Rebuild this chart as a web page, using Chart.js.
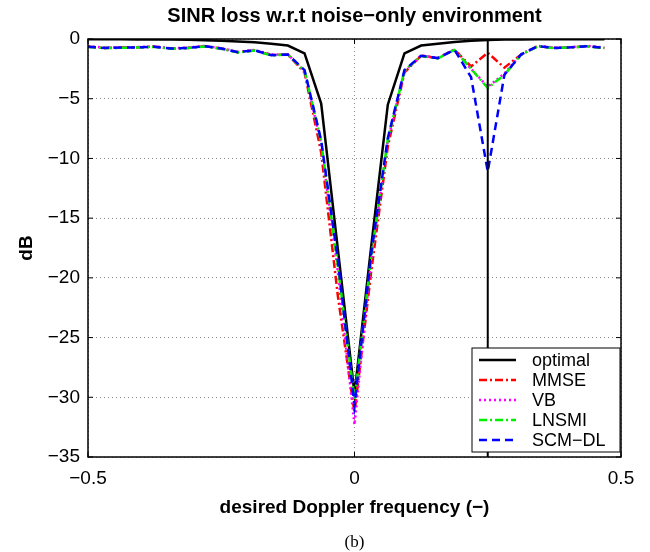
<!DOCTYPE html>
<html>
<head>
<meta charset="utf-8">
<script src="https://cdn.jsdelivr.net/npm/chart.js@4/dist/chart.umd.min.js"></script>
<style>
  html, body { margin: 0; padding: 0; background: #fff; }
  #wrap { width: 650px; height: 552px; position: relative; }
</style>
</head>
<body>
<div id="wrap"><canvas id="myChart"></canvas></div>
<script>
// desired Doppler frequency grid (1/32 steps)
const freq = [-0.5, -0.46875, -0.4375, -0.40625, -0.375, -0.34375, -0.3125, -0.28125,
  -0.25, -0.21875, -0.1875, -0.15625, -0.125, -0.09375, -0.0625, -0.03125,
  0, 0.03125, 0.0625, 0.09375, 0.125, 0.15625, 0.1875, 0.21875,
  0.25, 0.28125, 0.3125, 0.34375, 0.375, 0.40625, 0.4375, 0.46875];

// SINR loss (dB)
const optimal = [-0.03, -0.03, -0.03, -0.04, -0.04, -0.05, -0.06, -0.1,
  -0.15, -0.2, -0.28, -0.4, -0.55, -1.2, -5.4, -17.6,
  -29.7, -17.4, -5.5, -1.2, -0.55, -0.4, -0.25, -0.15,
  -0.08, -0.05, -0.04, -0.03, -0.03, -0.03, -0.03, -0.03];
const mmse = [-0.65, -0.75, -0.72, -0.7, -0.65, -0.8, -0.75, -0.6,
  -0.8, -1.1, -0.95, -1.35, -1.3, -2.8, -9.5, -21.5,
  -31.3, -19.5, -9.0, -2.8, -1.4, -1.6, -0.9, -2.3,
  -1.15, -2.4, -1.3, -0.6, -0.75, -0.7, -0.6, -0.75];
const vb = [-0.62, -0.72, -0.7, -0.68, -0.62, -0.78, -0.72, -0.58,
  -0.78, -1.08, -0.92, -1.3, -1.28, -2.7, -8.8, -19.5,
  -32.3, -18.5, -8.5, -2.7, -1.38, -1.58, -0.88, -2.5,
  -4.0, -2.9, -1.28, -0.58, -0.72, -0.68, -0.58, -0.72];
const lnsmi = [-0.66, -0.76, -0.74, -0.71, -0.66, -0.82, -0.76, -0.62,
  -0.82, -1.12, -0.97, -1.37, -1.32, -2.65, -8.6, -19.0,
  -30.2, -18.3, -8.4, -2.65, -1.42, -1.62, -0.92, -2.5,
  -4.1, -3.0, -1.32, -0.62, -0.76, -0.71, -0.62, -0.76];
const scmdl = [-0.65, -0.75, -0.72, -0.7, -0.65, -0.8, -0.75, -0.6,
  -0.8, -1.1, -0.95, -1.35, -1.3, -2.6, -8.5, -18.5,
  -30.7, -18.0, -8.3, -2.6, -1.4, -1.6, -0.9, -3.2,
  -11.1, -3.0, -1.3, -0.6, -0.75, -0.7, -0.6, -0.75];

const xTicks = [-0.5, 0, 0.5];
const yTicks = [0, -5, -10, -15, -20, -25, -30, -35];
const markerFreq = 0.25; // vertical reference line

const FONT = "'Liberation Sans', Arial, Helvetica, sans-serif";

function pts(values) {
  return freq.map((f, i) => ({ x: f, y: values[i] }));
}
function minus(v) {
  return String(v).replace("-", "\u2212");
}

const series = [
  { label: "optimal", data: optimal, color: "#000000", dash: [], order: 4 },
  { label: "MMSE", data: mmse, color: "#ff0000", dash: [8, 3, 2, 3], order: 3 },
  { label: "VB", data: vb, color: "#ff00ff", dash: [2, 3], order: 2 },
  { label: "LNSMI", data: lnsmi, color: "#00ee00", dash: [8, 3, 2, 3], order: 1 },
  { label: "SCM\u2212DL", data: scmdl, color: "#0000ff", dash: [8, 5], order: 0 },
];

// box, inward ticks, marker line, title, legend and caption
const decorPlugin = {
  id: "decor",
  afterDatasetsDraw(chart) {
    const ctx = chart.ctx;
    const a = chart.chartArea;
    const xs = chart.scales.x;
    const ys = chart.scales.y;
    ctx.save();

    // vertical line at 0.25
    const mx = xs.getPixelForValue(markerFreq);
    ctx.strokeStyle = "#000";
    ctx.lineWidth = 2;
    ctx.beginPath();
    ctx.moveTo(mx, a.top);
    ctx.lineTo(mx, a.bottom);
    ctx.stroke();

    // axes box
    ctx.lineWidth = 1.5;
    ctx.strokeRect(a.left, a.top, a.right - a.left, a.bottom - a.top);

    // inward tick marks
    ctx.lineWidth = 1;
    const tl = 5;
    xTicks.forEach((t) => {
      const px = xs.getPixelForValue(t);
      ctx.beginPath();
      ctx.moveTo(px, a.bottom); ctx.lineTo(px, a.bottom - tl);
      ctx.moveTo(px, a.top); ctx.lineTo(px, a.top + tl);
      ctx.stroke();
    });
    yTicks.forEach((t) => {
      const py = ys.getPixelForValue(t);
      ctx.beginPath();
      ctx.moveTo(a.left, py); ctx.lineTo(a.left + tl, py);
      ctx.moveTo(a.right, py); ctx.lineTo(a.right - tl, py);
      ctx.stroke();
    });

    // title
    const cx = (a.left + a.right) / 2;
    ctx.fillStyle = "#000";
    ctx.textAlign = "center";
    ctx.textBaseline = "middle";
    ctx.font = "bold 20px " + FONT;
    ctx.fillText("SINR loss w.r.t noise\u2212only environment", cx, 16);

    // caption
    ctx.font = "17px 'Liberation Serif', 'Times New Roman', serif";
    ctx.fillText("(b)", cx, 543);

    // legend inside the axes, lower right
    const lw = 148, lh = 104;
    const lx = a.right - 1 - lw;
    const ly = a.bottom - 5 - lh;
    ctx.fillStyle = "#fff";
    ctx.fillRect(lx, ly, lw, lh);
    ctx.strokeStyle = "#000";
    ctx.lineWidth = 1;
    ctx.strokeRect(lx, ly, lw, lh);
    ctx.font = "18px " + FONT;
    ctx.textAlign = "left";
    series.forEach((s, i) => {
      const y = ly + 12 + i * 20;
      ctx.strokeStyle = s.color;
      ctx.lineWidth = 2.5;
      ctx.setLineDash(s.dash);
      ctx.beginPath();
      ctx.moveTo(lx + 7, y);
      ctx.lineTo(lx + 44, y);
      ctx.stroke();
      ctx.setLineDash([]);
      ctx.fillStyle = "#000";
      ctx.fillText(s.label, lx + 60, y + 1);
    });
    ctx.restore();
  },
};

new Chart(document.getElementById("myChart"), {
  type: "line",
  data: {
    datasets: series.map((s) => ({
      label: s.label,
      data: pts(s.data),
      borderColor: s.color,
      borderWidth: 2.5,
      borderDash: s.dash,
      pointRadius: 0,
      tension: 0,
      fill: false,
      order: s.order,
    })),
  },
  options: {
    responsive: true,
    maintainAspectRatio: false,
    animation: false,
    layout: { padding: { top: 39, right: 29, left: 0, bottom: 25 } },
    plugins: {
      legend: { display: false },
      tooltip: { enabled: false },
      title: { display: false },
    },
    scales: {
      x: {
        type: "linear",
        min: -0.5,
        max: 0.5,
        afterBuildTicks: (scale) => { scale.ticks = xTicks.map((v) => ({ value: v })); },
        afterFit: (scale) => { scale.height = 70; },
        ticks: {
          color: "#000",
          padding: 10,
          maxRotation: 0,
          font: { family: FONT, size: 19 },
          callback: (v) => minus(v),
        },
        grid: { color: "#8a8a8a", lineWidth: 1, drawTicks: false },
        border: { display: false, dash: [1, 3] },
        title: {
          display: true,
          text: "desired Doppler frequency (\u2212)",
          color: "#000",
          font: { family: FONT, size: 19, weight: "bold" },
          padding: { top: 0, bottom: 8 },
        },
      },
      y: {
        min: -35,
        max: 0,
        afterBuildTicks: (scale) => { scale.ticks = yTicks.map((v) => ({ value: v })); },
        afterFit: (scale) => { scale.width = 88; },
        ticks: {
          color: "#000",
          padding: 8,
          font: { family: FONT, size: 19 },
          callback: (v) => minus(v),
        },
        grid: { color: "#8a8a8a", lineWidth: 1, drawTicks: false },
        border: { display: false, dash: [1, 3] },
        title: {
          display: true,
          text: "dB",
          color: "#000",
          font: { family: FONT, size: 19, weight: "bold" },
          padding: { top: 15, bottom: 0 },
        },
      },
    },
  },
  plugins: [decorPlugin],
});
</script>
</body>
</html>
